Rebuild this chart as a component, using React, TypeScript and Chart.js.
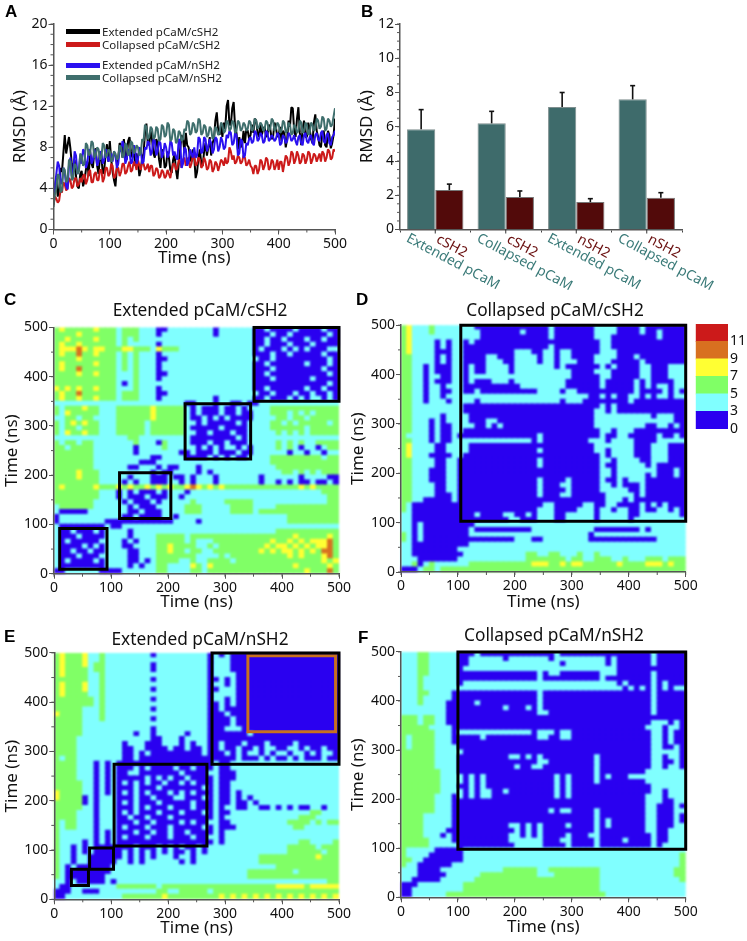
import React, { useEffect, useRef } from "react";
import { Chart, registerables } from "chart.js";
Chart.register(...registerables);

const FONT = '"Noto Sans", sans-serif';
const sampleStepNs = 2.5;
const extCSH2 = [2.6,4.2,5.0,3.2,3.8,6.0,5.6,7.4,9.2,7.4,8.2,9.0,7.9,6.4,5.6,6.8,5.2,4.2,4.0,5.4,5.7,4.2,4.7,5.8,6.6,5.2,7.6,6.4,6.0,7.6,7.9,6.2,5.4,7.0,7.2,5.4,5.8,7.2,8.3,6.6,8.6,6.8,5.6,4.8,4.2,6.0,7.0,8.4,8.2,7.0,8.8,7.2,6.8,8.6,9.0,7.6,7.0,8.2,6.2,7.4,6.6,5.2,5.8,7.0,7.4,9.4,10.3,8.4,8.2,9.6,8.8,7.4,7.0,8.8,8.4,6.8,6.0,7.8,7.4,6.0,6.2,7.6,7.0,5.8,5.5,6.8,7.4,5.8,4.9,6.4,7.8,9.2,8.8,7.6,9.4,8.2,8.0,7.0,6.6,7.8,7.0,5.0,5.6,7.0,7.8,6.4,6.2,7.6,8.4,7.2,8.0,9.0,7.2,8.4,8.8,10.6,11.4,9.6,9.2,10.2,9.0,10.4,9.8,12.0,12.6,10.2,10.2,11.8,12.4,10.0,9.4,7.8,9.0,8.0,8.2,9.6,8.4,9.8,9.6,8.8,9.2,10.2,9.4,10.8,10.6,9.4,9.0,10.2,9.2,9.8,10.0,9.0,9.2,10.2,9.8,8.8,9.0,10.4,10.0,9.0,9.2,10.0,8.6,9.6,9.4,8.0,8.8,10.6,10.0,11.9,11.8,9.6,9.0,10.8,11.9,9.4,8.2,9.8,10.6,9.0,9.0,10.4,9.8,8.8,8.4,10.4,11.2,9.6,9.0,8.2,8.0,9.4,9.6,8.2,8.0,9.6,9.2,7.9,8.4,9.2,10.8];
const colCSH2 = [2.4,3.2,3.0,2.6,2.8,3.8,3.6,4.6,4.4,3.8,4.0,5.0,4.8,4.0,4.2,5.0,5.0,4.2,4.4,5.0,4.6,5.2,5.4,4.4,4.8,5.6,5.8,4.6,4.6,5.4,5.6,4.8,4.8,5.8,5.8,4.6,5.0,6.0,6.0,5.2,5.4,6.4,6.2,5.0,5.2,6.0,6.0,5.2,5.6,6.4,6.4,5.4,5.6,6.2,6.6,5.6,5.8,6.6,6.4,5.8,6.8,6.2,5.8,6.6,6.4,5.8,6.0,6.4,5.6,6.2,6.2,5.2,5.4,6.0,5.8,5.0,5.2,5.8,5.6,5.0,5.2,5.8,5.4,5.0,5.8,6.4,6.4,5.8,6.0,6.8,6.6,6.0,6.8,7.0,6.2,6.8,7.0,6.0,6.4,7.2,7.2,6.2,6.4,7.0,6.8,6.0,6.2,7.0,6.6,5.8,6.0,6.8,6.6,5.6,5.9,6.6,6.4,5.7,6.2,6.8,6.6,6.2,7.0,6.4,6.6,8.0,7.6,6.8,7.2,6.4,6.6,7.2,7.0,6.4,6.6,7.2,7.0,6.2,6.4,6.8,6.2,6.0,5.4,6.2,6.2,5.4,5.8,6.8,6.6,5.8,6.2,7.0,6.8,5.8,6.0,6.8,6.6,5.8,6.2,6.8,5.8,6.6,6.6,5.6,6.4,7.2,7.0,6.2,6.6,7.6,7.4,6.4,6.8,7.6,7.2,6.4,6.6,7.4,7.2,6.4,6.8,7.6,7.4,6.4,6.8,7.4,7.2,6.6,7.0,7.4,6.6,7.6,7.4,6.6,7.0,7.8,7.6,6.8,7.0,7.8,7.6];
const extNSH2 = [2.8,4.2,5.4,6.6,6.2,4.4,4.6,6.0,5.6,4.2,3.9,6.2,7.0,5.2,5.6,7.6,7.2,5.4,5.8,7.2,6.4,7.8,7.6,6.0,6.4,7.8,7.6,6.4,6.8,7.8,7.4,6.2,6.6,7.6,7.4,6.4,6.8,7.8,7.6,6.6,7.0,7.4,6.6,7.6,7.2,6.0,6.4,7.8,7.6,8.6,8.2,6.4,6.8,7.8,7.6,6.4,6.6,8.2,7.8,6.4,6.8,8.0,7.8,6.4,6.6,8.0,7.8,8.6,8.4,7.2,7.6,8.8,8.6,7.2,7.6,8.6,8.4,7.0,7.4,8.4,8.0,7.0,7.4,8.6,8.4,7.2,7.6,7.0,6.8,8.8,8.6,6.0,6.4,8.0,7.8,6.2,6.6,7.8,7.4,7.0,8.0,7.0,7.2,9.0,8.8,7.4,7.6,9.0,8.8,7.6,8.0,8.8,8.4,7.4,7.8,9.0,8.8,7.6,8.0,9.0,8.6,7.8,8.0,9.2,8.9,9.6,9.4,8.2,8.4,9.4,9.2,7.2,7.4,8.8,8.6,7.0,7.2,8.4,8.2,8.8,9.0,8.4,8.6,9.6,9.4,8.6,8.8,9.4,9.2,8.4,8.6,9.6,9.4,8.6,8.8,9.2,9.0,8.6,8.8,9.4,9.2,8.2,8.4,9.2,9.0,8.4,8.6,9.4,9.2,8.6,8.8,9.2,8.6,8.2,9.0,9.2,8.4,8.2,9.2,9.4,8.6,8.4,9.0,9.2,8.4,8.2,9.2,9.4,8.8,8.6,9.4,9.6,8.6,8.4,9.2,9.4,8.4,8.2,9.0,9.2,9.6];
const colNSH2 = [2.2,3.4,4.0,5.4,5.2,3.6,3.8,6.0,5.8,4.6,4.8,6.8,6.6,4.8,5.0,6.4,6.2,5.4,5.6,7.4,7.2,6.2,6.4,8.4,8.2,7.2,7.4,8.6,8.4,7.0,7.2,8.0,7.8,6.8,7.0,8.4,8.2,7.0,7.2,7.8,7.6,6.6,6.8,7.6,7.4,6.8,7.0,8.2,8.0,7.0,7.2,8.4,8.2,7.2,7.4,8.6,8.4,7.4,7.6,8.2,8.0,7.2,7.4,8.8,8.6,10.2,10.0,8.8,9.0,10.0,9.8,8.8,9.0,10.0,9.8,8.6,8.8,10.2,10.0,9.0,9.2,10.4,10.2,8.6,8.8,9.8,9.6,8.4,8.6,9.6,9.4,8.6,8.8,9.8,9.6,10.6,10.4,9.2,9.4,10.4,10.2,9.4,9.6,10.8,10.6,9.2,9.4,10.2,10.0,9.0,9.2,10.0,9.8,8.8,9.0,10.0,9.8,9.2,9.4,10.4,10.2,9.4,9.6,10.6,10.4,9.6,9.8,10.6,10.4,9.4,9.6,10.6,10.4,9.6,9.8,10.4,10.2,9.6,9.8,10.6,10.4,9.6,9.8,10.8,10.6,9.8,10.0,10.4,10.2,9.6,9.8,10.6,10.4,9.6,9.8,10.8,10.6,9.6,9.8,10.4,10.2,9.4,9.6,10.6,10.4,9.4,9.6,10.4,10.2,9.2,9.4,10.2,10.0,9.4,9.6,10.6,10.4,9.4,9.6,10.4,10.2,9.2,9.4,10.4,10.2,9.6,9.8,10.8,10.6,9.8,10.0,11.0,10.8,9.6,9.8,10.8,10.6,10.0,10.2,11.0,11.8];

const barPcam = [5.85, 6.2, 7.15, 7.6];
const barPcamTop = [7.0, 6.9, 8.0, 8.4];
const barSh2 = [2.3, 1.9, 1.6, 1.85];
const barSh2Top = [2.65, 2.25, 1.8, 2.15];
const pcamLabels = ["Extended pCaM", "Collapsed pCaM", "Extended pCaM", "Collapsed pCaM"];
const sh2Labels = ["cSH2", "cSH2", "nSH2", "nSH2"];

const levelColors = ["#2a00f0", "#80ffff", "#80ff66", "#ffff33", "#d87020", "#cc1a1a"];
const colorbarLabels = ["0", "3", "5", "7", "9", "11", ""];
const timeStep = 10;

const matrixC = [
"2322222322 2122211100 1111111101 1111100100 0010000100",
"2222322222 2122211101 1111111101 1111100010 0100000010",
"2232222322 2121211111 1111111111 1111100100 1000100100",
"2322322222 2121111101 1111111111 1111100100 0100010000",
"2333432332 2233222132 2211111111 1111101000 1010100011",
"2322422322 2121211101 1111111111 1111100010 0100000100",
"2222322222 2121211100 1111111111 1111110010 0000000010",
"2322222322 2121211101 1111111111 1111100100 0000100010",
"2322422222 2121211101 1111111111 1111100010 0000000100",
"2222322322 2111211100 1111111111 1111100100 0000000010",
"2222222222 2111211101 1111111111 1111100010 0000010000",
"2222222222 2101211111 1111111111 1111100000 0000000010",
"3232322322 2111211101 1111111111 1111100100 0000100100",
"2322422222 2122211100 1111111111 1111110010 0010010010",
"2322322322 2122211101 1111111101 1111100100 0101011010",
"1111111111 1111111111 1110011101 1001001111 1111111111",
"2122232211 1222222322 2221010001 0010111122 2222222222",
"2132222211 1222222322 2221010001 0010011122 2121212222",
"1122122111 1222222322 2221001010 1000011112 2122122222",
"2123232211 1222221222 2221101000 0010111122 1212222212",
"2122122211 1222221222 2221000001 0000111122 2222122222",
"2132232211 1222221222 2221100100 0100111112 1212122222",
"1111111111 1112211111 1111000000 0010111111 1111111111",
"2122122111 1111211102 1111000100 1000111112 1212112222",
"2212222111 1111011112 1111101010 1101011112 1210110122",
"2222222111 1111011111 1100100010 0010011111 1011011011",
"2222222111 1111111001 1110000101 0100111122 2222222122",
"2222222111 1111100011 1111111111 1111111122 2222222222",
"2222222111 1110011101 0011101111 1111111112 2222222222",
"2222322211 1111111010 0111101011 1111111111 2212121222",
"2222322211 1110111000 1001011101 1111110111 1110111100",
"2222222211 1101011000 1101011101 1111110110 1010010010",
"2322222322 2323223232 3223432323 2222222222 2223232222",
"2222222211 1010100010 1110111111 1111111111 1111111222",
"2222222211 1010001000 1101111111 1111111111 1111111122",
"2222222111 1101000101 1111211111 2222211111 1111111122",
"1222222111 1110100011 1112221111 1222211112 2222222222",
"1000001111 1110010001 1112221111 1222212222 2222222222",
"0111111111 1100100001 1011111111 1111111111 1222222222",
"0111111110 0000000000 0111101111 1111111111 1222222222",
"1000000001 0011111111 1111111111 1111111111 1111111111",
"1001000101 1110111111 1111111111 1111111112 2222222222",
"1000100001 1110111122 2221222222 2222222222 2232222232",
"1010000011 1101011122 2221211122 2222222232 2323233342",
"1000010101 1100111122 3222211212 2222222323 3232323342",
"1001001001 1110011122 3221221122 2222223232 3323232442",
"1000100011 1110011122 2222211112 1222222222 2323222342",
"1010000101 1110010122 2211211222 2122222222 2222222323",
"1000000001 1110101122 1111321322 2222222222 2232222232",
"0011111100 0011111122 1111221222 2222222222 2222322242",
];

const matrixD = [
"2311121111 1110000000 0000001000 0000111100 0010000000",
"2311121111 1111000000 0100001000 0000111100 0010010000",
"2311111111 1111000000 0000001000 0000111000 0000010000",
"2311110101 1010000000 0000000000 0000011000 0000000000",
"2311110101 1000000000 0000001000 0000011000 0000000000",
"2311110001 1000000000 1110011011 0000011100 0000000000",
"2211110101 1000011000 1111011011 0000111100 0100000000",
"2211110101 1000011100 1111011011 1000111000 0010000000",
"2211010001 1010011110 1111111010 0000010100 0011000111",
"2211010001 1010011110 1111111111 0000111000 0011000111",
"2211011001 1011111111 1111111111 0000011000 0011000111",
"2211010001 1010001110 1111111110 0000010000 0101000011",
"2211011011 1000000000 0111111110 0000010000 0101011011",
"2211011001 1001000000 0000111101 1000000000 0100001010",
"2211011011 1111111111 1111111111 1110010100 1101011011",
"2211011101 1110111111 1111111101 1100000000 1000000000",
"2211111111 1000000000 0000000000 0000010100 0000000000",
"2211111111 1000000000 0000000000 0000110100 0000000000",
"2211111011 1100000000 0000000000 0000111111 1111011100",
"2211101011 1100011000 0000000000 0000111111 1111111100",
"2211101001 1110010100 0000000000 0000111111 1110011010",
"2211101001 1000000000 0000000000 0000011011 1000000000",
"2111101001 0000000000 0000100000 0000010011 0000010010",
"2211101001 1111111111 1110100000 0001110111 1000011111",
"2311110011 1100000000 0000000000 0000111111 1000111000",
"2311110011 1100000000 0000100000 0000110111 1000111000",
"2311100001 1000000000 0000000000 0000010111 1000111000",
"2211110011 0000000000 0000100000 0000011011 1100111000",
"2211110011 0000000000 0000100000 0000010011 1110100000",
"2211100011 0000000000 0000000000 0000011011 1111100010",
"2211100011 0000000000 0000000000 0000011011 1110100010",
"2211100011 0000000000 0000100001 0000010010 1110000000",
"2211110011 0000000000 0000100011 0000011010 0010000000",
"2211110011 0000000000 0000100001 0000011111 0010000000",
"2211110001 0000000000 0000100011 0000001111 1010000000",
"2211000001 0000000000 0000000000 0000001110 1000000000",
"2100000000 0000000000 0000011000 0011001100 0010101000",
"2100000000 0000000000 0000111000 0111011011 0010011010",
"1100000000 0001000011 0010111001 1111011111 0011111110",
"1100000000 0000000001 1000111001 1111011111 0111111111",
"1101000000 0001111111 1111111111 1111111111 1111111111",
"1101000000 0010000000 0001111111 1111000000 0010111111",
"2101000000 0011111111 1111111111 1110111111 1111111111",
"2101000000 0000000000 1110011111 1110000000 0000011111",
"1100000000 0011111111 1111111111 1111111111 1111111111",
"1100000000 1111111111 1111111111 1111111111 1111111111",
"1100000000 0111111111 1122112211 1211211111 1111111111",
"1110000000 1111111111 1122222221 2211222112 1112221222",
"1120121111 1122222222 2223332232 3322222232 2223332322",
"0001221222 2222222222 2222222222 2222222222 2222222222",
];

const matrixE = [
"2322231121 1111111011 1111111010 1000000000 0000000000",
"2322231121 1111111111 1111111011 1000000000 0000000000",
"2322231221 1111111011 1111111011 1000000000 0000000000",
"2322221221 1111111011 1111111011 1000000000 0000000000",
"2322221121 1111111111 1111111011 1100000000 0000000000",
"2222221121 1111111011 1111111001 0100000000 0000000000",
"2322231121 1111111111 1111111011 0100000000 0000000000",
"2322231121 1111111011 1111111001 1100000000 0000000000",
"2322221121 1111111111 1111111011 1100000000 0000000000",
"2222222121 1111111011 1111111011 0100000000 0000000000",
"2222222121 1111111111 1111111001 0100000000 0000000000",
"2222211121 1111111011 1111111001 0000000000 0000000000",
"3222211121 1111111111 1111111000 1000000000 0000000000",
"2222211121 1111111011 1111111000 0100000000 0000000000",
"2222211111 1111111111 1111111000 0100000000 0000000000",
"2222211111 1111111011 1111111000 1110000000 0000000000",
"2222211111 1111011011 1110111000 0000100000 0000000000",
"2222111111 1111111001 1101111000 0000000000 0000000000",
"2222111111 1101110001 1101011001 0001000100 0010000000",
"2222111111 1100110000 1001001001 0010010110 0110100100",
"2222111111 1100101000 0000001000 1010110101 1011010110",
"2122111111 1100100000 0000000000 0010001010 0101000100",
"2222111010 1000000000 0000000010 0111111111 1111111111",
"2222111010 1000101000 0100100010 0111111111 1111111111",
"2222111010 1001100000 0010000110 0011111111 1111111111",
"2222111010 1000001010 1001000010 0011111111 1111111111",
"2222211010 1010101001 0010100010 0111111111 1111111111",
"2222211010 1000100010 0000001010 0111111111 1111111111",
"3222211010 1010101000 1010100010 0101111111 1111111111",
"3222201011 1000100100 0110001010 0101011111 1111111111",
"2222201011 1010100010 0000100010 0100101111 1111111111",
"2222211011 1000101000 1000100010 1100110010 1010011011",
"2222111011 1010100010 0010001010 0111111111 1111122111",
"2222111011 1001001000 1000000010 1111111111 1112221111",
"2122111011 1000100100 0010100110 0111111111 1222212122",
"2122111011 1010001000 1000001010 0011111111 1122111111",
"2111111010 1000100100 1001000010 1111111111 1111111111",
"2111111010 1010001000 1000100110 1111111111 1111111111",
"2111101010 1000000000 0000000010 1111111111 1112211112",
"2110101000 0000100010 1010010111 1111111111 1222221222",
"2110101000 0010101010 1001010111 1111111111 1222222122",
"2110110000 0010101011 1011011111 1111112222 2222223222",
"2110110000 0110101111 1101011111 1111112222 2222222222",
"2101000000 1111111111 1111111111 1111111112 2222222222",
"2100000000 1111111111 1111111111 1111222222 2212222222",
"2100000001 1111111111 1111111111 1111222222 2222222222",
"1101000001 0111111111 1111111111 1111111111 1111111122",
"1001111111 1222222212 2222222222 2222222223 3333233333",
"0001100011 1111111122 1122222122 2222222222 2222222222",
"0011111111 1122222223 2222222223 2323232323 2323232323",
];

const matrixF = [
"1112211111 0001000000 0000000100 0000000000 0000100000",
"1112211111 0011111101 1111110111 1111110100 0000100000",
"1112211111 0011111111 1111111101 1111110100 0000100000",
"1112211111 0111111111 1111111111 1111111100 0000000000",
"1112211111 0000000000 0000101100 0000011100 0000100000",
"1112111111 0000000000 0000100000 0000010000 0000100000",
"1112111111 0111111111 1111111111 1111111101 0000101000",
"1112111111 1111111111 1111111111 1111111110 1010101011",
"1112211110 0000000000 0000100000 0000000000 0000100000",
"1112111110 0000000000 0000100000 0000000000 0000100000",
"1112111100 0001000000 0000100000 0000000000 0000100000",
"1111111100 0000000010 0010100000 0000000000 0000100000",
"1111111100 0000000000 0000110000 0000000000 0000100000",
"2221221100 0000000000 0000000000 0000000000 0000000000",
"2221221100 0000000000 0000000000 0000000000 0000111010",
"2222211110 0000000000 0000000000 0000000000 0001110110",
"2222221110 1111111111 1110111011 0000000000 0000110100",
"2122221110 0000100000 0000110011 0000000000 0000110100",
"2122221110 0000000000 0000000000 0000000000 0000110100",
"2122221111 0000000000 0000000000 0000000000 0000110010",
"2222221111 1000000000 0000000000 0000000000 0000111110",
"2222221111 0000000001 1010100000 0000100000 0000110110",
"2222221111 0000000000 0000110000 0000100000 0000110010",
"2222221111 0000000000 1001100000 0000100000 0000110110",
"2222222111 0000000000 0000000000 0000100000 0001111111",
"2222222111 1010100000 0000000101 0000101000 1111111111",
"2222222111 1010100000 0000000101 0000100000 0001111111",
"2222222111 0010100000 0000000101 0000000000 0000111111",
"2222222111 1010110010 0000000101 0000000000 0000110111",
"2222221110 1010110000 0000000101 0000000000 0001110111",
"2222221110 0000000000 0000000000 0000000000 0001110011",
"2222221110 0000000000 0000000000 0000000000 0001100010",
"2222221110 0000000000 0000001011 0000100000 0001100011",
"2222111110 0000000000 0000000000 0000100000 0001100010",
"2222111110 0000000000 0000000000 0000101000 0001100010",
"2222111110 0000000001 1010100001 0000101000 0001100011",
"2222111100 0000000000 1010100000 0000100000 0001100111",
"2222111010 0000000001 1010100001 0001100000 0000100111",
"2222211110 0000000001 1111100011 0000100001 0000100111",
"2222211111 0000000000 1111100001 0000100000 0000101111",
"2111110000 0111111111 1111111111 1111111111 1111111111",
"2111100000 0111111111 1111111111 1111111111 1111111112",
"2211000000 0111111111 1111111111 1111111111 1111111112",
"2110000001 1111111111 1111111111 1111111111 1111111112",
"1110000111 1111111122 2222112222 2222211111 1111111122",
"1110000011 1111222222 2222111222 2222211111 1111111122",
"1100000111 1112222222 2222222222 2222211111 1111111112",
"0001111111 1222222222 2222222222 2222211111 1111111111",
"0011111111 1222222222 2222222222 2222211111 1111111111",
"0011111122 2222222222 2222222222 2222221111 1111111111",
];

const boxesC = [[10, 9, 93, 92], [115, 112, 205, 205], [230, 233, 345, 345], [351, 350, 500, 500]];
const boxesD = [[105, 103, 500, 500]];
const boxesE = [[30, 28, 60, 61], [62, 61, 104, 104], [105, 108, 268, 274], [277, 274, 500, 500]];
const orangeE = [[340, 340, 494, 494]];
const boxesF = [[100, 98, 500, 500]];

const legendRows = [
  { name: "Extended pCaM/cSH2", color: "#000000", y: 31.5 },
  { name: "Collapsed pCaM/cSH2", color: "#cc1a1a", y: 44.5 },
  { name: "Extended pCaM/nSH2", color: "#2a10f0", y: 65 },
  { name: "Collapsed pCaM/nSH2", color: "#3f6f6d", y: 77.5 },
];
const panelLetters = [
  { t: "A", x: 5, y: 3 }, { t: "B", x: 361, y: 3 }, { t: "C", x: 4, y: 291 },
  { t: "D", x: 356, y: 291 }, { t: "E", x: 4, y: 628 }, { t: "F", x: 358, y: 629 },
];

const AXIS = "#555";
const CLEAR = "rgba(0,0,0,0)";

const minorTicks = {
  id: "minorTicks",
  afterDatasetsDraw(chart: any, _a: any, o: any) {
    const { ctx, scales } = chart;
    ctx.save();
    ctx.strokeStyle = AXIS;
    ctx.lineWidth = 1;
    if (o.x) {
      for (let v = scales.x.min; v <= scales.x.max; v += o.x) {
        const p = scales.x.getPixelForValue(v);
        ctx.beginPath(); ctx.moveTo(p, scales.x.top); ctx.lineTo(p, scales.x.top + 3); ctx.stroke();
      }
    }
    if (o.y) {
      for (let v = scales.y.min; v <= scales.y.max + 1e-6; v += o.y) {
        const p = scales.y.getPixelForValue(v);
        ctx.beginPath(); ctx.moveTo(scales.y.right, p); ctx.lineTo(scales.y.right - 3, p); ctx.stroke();
      }
    }
    ctx.restore();
  },
};

const titleCentre = {
  id: "titleCentre",
  afterLayout(chart: any, _a: any, o: any) {
    if (chart.titleBlock && o.x !== undefined) {
      chart.titleBlock.left = o.x - 120;
      chart.titleBlock.right = o.x + 120;
    }
  },
};

const barExtras = {
  id: "barExtras",
  afterDatasetsDraw(chart: any) {
    const { ctx, scales } = chart;
    ctx.save();
    ctx.strokeStyle = "#111";
    [barPcamTop, barSh2Top].forEach((tops, d) => {
      const meta = chart.getDatasetMeta(d);
      tops.forEach((t, i) => {
        const el = meta.data[i];
        const x = el.x;
        const yT = scales.y.getPixelForValue(t);
        ctx.lineWidth = 1.6;
        ctx.beginPath(); ctx.moveTo(x, el.y); ctx.lineTo(x, yT); ctx.stroke();
        ctx.beginPath(); ctx.moveTo(x - 2.5, yT); ctx.lineTo(x + 2.5, yT); ctx.stroke();
      });
    });
    ctx.restore();
  },
  afterDraw(chart: any) {
    const { ctx, scales } = chart;
    ctx.save();
    ctx.font = `14px ${FONT}`;
    ctx.textBaseline = "middle";
    ctx.textAlign = "left";
    const ang = (28 * Math.PI) / 180;
    pcamLabels.forEach((label, i) => {
      const c = scales.x.getPixelForTick(i);
      ctx.save();
      ctx.translate(c - 28, scales.y.bottom + 8);
      ctx.rotate(ang);
      ctx.fillStyle = "#3a7a78";
      ctx.fillText(label, 0, 0);
      ctx.restore();
      ctx.save();
      ctx.translate(c + 2, scales.y.bottom + 9);
      ctx.rotate(ang);
      ctx.fillStyle = "#6a1010";
      ctx.fillText(sh2Labels[i], 0, 0);
      ctx.restore();
      ctx.strokeStyle = "#333";
      ctx.lineWidth = 1;
      ctx.beginPath(); ctx.moveTo(c, scales.y.bottom); ctx.lineTo(c, scales.y.bottom + 4); ctx.stroke();
    });
    ctx.restore();
  },
};

type Frame = { left: number; top: number; right: number; bottom: number; pl: number; pt: number; pr: number; pb: number };

function axisX(f: Frame, titleCenterY: number, hidden = false) {
  const lh = 17 * 1.2;
  const p = f.bottom - titleCenterY - lh / 2;
  return {
    type: "linear", min: 0, max: 500, offset: false,
    afterFit: (s: any) => { s.height = f.bottom - f.pb; },
    border: { color: hidden ? CLEAR : AXIS, width: 1.5, z: 2 },
    grid: { drawOnChartArea: false, tickLength: 5, tickColor: hidden ? CLEAR : AXIS, tickWidth: 1 },
    ticks: { stepSize: 100, maxRotation: 0, autoSkip: false, padding: 1, color: hidden ? CLEAR : "#111", font: { size: 14, family: FONT } },
    title: { display: true, text: "Time (ns)", color: hidden ? CLEAR : "#111", font: { size: 17, family: FONT }, padding: { top: p, bottom: p } },
  };
}
function axisY(f: Frame, titleText: string, titleCenterX: number, step: number, min: number, max: number, hidden = false) {
  const lh = 17 * 1.2;
  const p = titleCenterX - f.left - lh / 2;
  return {
    min, max,
    afterFit: (s: any) => { s.width = f.pl - f.left; },
    border: { color: hidden ? CLEAR : AXIS, width: 1.5, z: 2 },
    grid: { drawOnChartArea: false, tickLength: 5, tickColor: hidden ? CLEAR : AXIS, tickWidth: 1 },
    ticks: { stepSize: step, autoSkip: false, padding: 1, color: hidden ? CLEAR : "#111", font: { size: 14, family: FONT } },
    title: { display: true, text: titleText, color: hidden ? CLEAR : "#111", font: { size: 17, family: FONT }, padding: { top: p, bottom: p } },
  };
}
function padOf(f: Frame, hasTitle: boolean) {
  return { left: 0, bottom: 0, right: f.right - f.pr, top: hasTitle ? 0 : f.pt - f.top };
}

function boxDataset(b: number[], color: string, width: number) {
  const [x0, y0, x1, y1] = b;
  return {
    data: [{ x: x0, y: y0 }, { x: x1, y: y0 }, { x: x1, y: y1 }, { x: x0, y: y1 }, { x: x0, y: y0 }, { x: x1, y: y0 }],
    borderColor: color, borderWidth: width, pointRadius: 0, tension: 0, fill: false,
    borderJoinStyle: "miter", clip: false,
  };
}

function heatOptions(f: Frame, title: string, titleCX: number, xTitleY: number, yTitleX: number, hidden: boolean) {
  const lh = 17 * 1.2;
  const q = f.pt - f.top - lh;
  return {
    responsive: false, animation: false, events: [],
    layout: { padding: padOf(f, true) },
    plugins: {
      legend: { display: false }, tooltip: { enabled: false },
      title: { display: true, text: title, color: hidden ? CLEAR : "#111", font: { size: 17.3, family: FONT, weight: "normal", lineHeight: lh / 17.3 }, padding: { top: 0, bottom: q } },
      minorTicks: hidden ? {} : { x: 50, y: 50 },
      titleCentre: { x: titleCX - f.left },
    },
    scales: { x: axisX(f, xTitleY, hidden), y: axisY(f, "Time (ns)", yTitleX, 100, 0, 500, hidden) },
  };
}

function heatCells(matrix: string[], f: Frame, title: string, cx: number, xTitleY: number, yTitleX: number) {
  const rows = matrix.map((r) => r.replace(/ /g, ""));
  const datasets: any[] = [];
  for (let r = rows.length - 1; r >= 0; r--) {
    const row = rows[r];
    const pts: any[] = [];
    const cols: string[] = [];
    for (let c = 0; c < row.length; c++) {
      pts.push({ x: c * timeStep + timeStep / 2, y: timeStep });
      cols.push(levelColors[Number(row[c])]);
    }
    datasets.push({ data: pts, backgroundColor: cols, borderWidth: 0, stack: "m", barPercentage: 1, categoryPercentage: 1, inflateAmount: 0.6 });
  }
  return { type: "bar", data: { datasets }, options: heatOptions(f, title, cx, xTitleY, yTitleX, true) };
}
function heatFrame(boxes: number[][], extra: number[][], f: Frame, title: string, cx: number, xTitleY: number, yTitleX: number) {
  const datasets = [
    ...boxes.map((b) => boxDataset(b, "#000", 3)),
    ...extra.map((b) => boxDataset(b, "#c8701e", 3)),
  ];
  return { type: "line", data: { datasets }, plugins: [minorTicks, titleCentre], options: heatOptions(f, title, cx, xTitleY, yTitleX, false) };
}

const fA: Frame = { left: 0, top: 0, right: 352, bottom: 285, pl: 53.5, pt: 24, pr: 335, pb: 229.5 };
const fB: Frame = { left: 350, top: 0, right: 747, bottom: 300, pl: 400, pt: 24, pr: 682, pb: 229.5 };
const fC: Frame = { left: 0, top: 300.8, right: 356, bottom: 625, pl: 54, pt: 327.3, pr: 339, pb: 573.7 };
const fD: Frame = { left: 345, top: 300.8, right: 703, bottom: 625, pl: 401, pt: 325, pr: 685.7, pb: 572 };
const fE: Frame = { left: 0, top: 629.8, right: 356, bottom: 941, pl: 54.3, pt: 652.7, pr: 339, pb: 899.3 };
const fF: Frame = { left: 345, top: 625.8, right: 703, bottom: 941, pl: 401, pt: 651.7, pr: 685.7, pb: 897.3 };
const fBar: Frame = { left: 680, top: 312, right: 747, bottom: 440, pl: 695.7, pt: 324, pr: 728, pb: 429 };

const lineConfig = {
  type: "line",
  data: {
    datasets: [
      { label: legendRows[0].name, values: extCSH2, color: legendRows[0].color, order: 4 },
      { label: legendRows[1].name, values: colCSH2, color: legendRows[1].color, order: 3 },
      { label: legendRows[2].name, values: extNSH2, color: legendRows[2].color, order: 2 },
      { label: legendRows[3].name, values: colNSH2, color: legendRows[3].color, order: 1 },
    ].map((s) => ({
      label: s.label,
      data: s.values.map((v, i) => ({ x: i * sampleStepNs, y: v })),
      borderColor: s.color, borderWidth: 2, pointRadius: 0, tension: 0, order: s.order, borderJoinStyle: "bevel",
    })),
  },
  plugins: [minorTicks],
  options: {
    responsive: false, animation: false, events: [],
    layout: { padding: padOf(fA, false) },
    plugins: { legend: { display: false }, tooltip: { enabled: false }, minorTicks: { x: 50, y: 1 } },
    scales: { x: axisX(fA, 258), y: axisY(fA, "RMSD (Å)", 20, 4, 0, 20) },
  },
};

const barConfig = {
  type: "bar",
  data: {
    labels: pcamLabels.map((l, i) => `${l} ${sh2Labels[i]}`),
    datasets: [
      { label: "pCaM", data: barPcam, backgroundColor: "#3e6b6b", borderColor: "#7f8f8f", borderWidth: 1, categoryPercentage: 0.8, barPercentage: 1 },
      { label: "SH2", data: barSh2, backgroundColor: "#520a0a", borderColor: "#777", borderWidth: 1, categoryPercentage: 0.8, barPercentage: 1 },
    ],
  },
  plugins: [minorTicks, barExtras],
  options: {
    responsive: false, animation: false, events: [],
    layout: { padding: padOf(fB, false) },
    plugins: { legend: { display: false }, tooltip: { enabled: false }, minorTicks: { y: 0.5 } },
    scales: {
      x: {
        afterFit: (s: any) => { s.height = fB.bottom - fB.pb; },
        border: { color: AXIS, width: 1.5 },
        grid: { drawOnChartArea: false, offset: true, tickLength: 3, tickColor: "#444" },
        ticks: { display: false },
      },
      y: axisY(fB, "RMSD (Å)", 367, 2, 0, 12),
    },
  },
};

const colorbarConfig = {
  type: "bar",
  data: {
    labels: ["RMSD"],
    datasets: levelColors.map((c, i) => ({ label: colorbarLabels[i], data: [1], backgroundColor: c, borderWidth: 0, stack: "c", barPercentage: 1, categoryPercentage: 1, inflateAmount: 0.4 })),
  },
  options: {
    responsive: false, animation: false, events: [],
    layout: { padding: { left: fBar.pl - fBar.left, right: 0, top: fBar.pt - fBar.top, bottom: fBar.bottom - fBar.pb } },
    plugins: { legend: { display: false }, tooltip: { enabled: false } },
    scales: {
      x: { display: false },
      y: {
        position: "right", min: 0, max: 6, stacked: true,
        afterFit: (s: any) => { s.width = fBar.right - fBar.pr; },
        border: { display: false },
        grid: { display: false, drawTicks: false },
        ticks: { stepSize: 1, autoSkip: false, padding: 2, color: "#111", font: { size: 14, family: FONT }, callback: (v: any) => colorbarLabels[v] },
      },
    },
  },
};

function Panel({ frame, config, blur = 0.35 }: { frame: Frame; config: any; blur?: number }) {
  const ref = useRef<HTMLCanvasElement>(null);
  useEffect(() => {
    const chart = new Chart(ref.current as any, config);
    return () => chart.destroy();
  }, []);
  const w = Math.round(frame.right - frame.left);
  const h = Math.round(frame.bottom - frame.top);
  return (
    <canvas
      ref={ref}
      width={w}
      height={h}
      style={{ position: "absolute", left: frame.left, top: frame.top, width: w, height: h, filter: `blur(${blur}px)` }}
    />
  );
}

const heatPanels = [
  { key: "C", m: matrixC, boxes: boxesC, extra: [], f: fC, title: "Extended pCaM/cSH2", cx: 200, xy: 602, yx: 12 },
  { key: "D", m: matrixD, boxes: boxesD, extra: [], f: fD, title: "Collapsed pCaM/cSH2", cx: 555, xy: 602, yx: 358 },
  { key: "E", m: matrixE, boxes: boxesE, extra: orangeE, f: fE, title: "Extended pCaM/nSH2", cx: 200, xy: 928, yx: 12 },
  { key: "F", m: matrixF, boxes: boxesF, extra: [], f: fF, title: "Collapsed pCaM/nSH2", cx: 554, xy: 927, yx: 358 },
];

export default function App() {
  return (
    <div style={{ position: "absolute", left: 0, top: 0, width: 747, height: 941, overflow: "hidden", background: "#fff" }}>
      <Panel frame={fA} config={lineConfig} />
      <Panel frame={fB} config={barConfig} />
      {heatPanels.map((p) => (
        <React.Fragment key={p.key}>
          <Panel frame={p.f} config={heatCells(p.m, p.f, p.title, p.cx, p.xy, p.yx)} blur={1.1} />
          <Panel frame={p.f} config={heatFrame(p.boxes, p.extra, p.f, p.title, p.cx, p.xy, p.yx)} />
        </React.Fragment>
      ))}
      <Panel frame={fBar} config={colorbarConfig} />
      {legendRows.map((r) => (
        <React.Fragment key={r.name}>
          <div style={{ position: "absolute", left: 65.5, top: r.y - 2.5, width: 34, height: 5, background: r.color }} />
          <div style={{ position: "absolute", left: 102, top: r.y - 8, height: 16, lineHeight: "16px", fontFamily: FONT, fontSize: 11.5, color: "#222", whiteSpace: "nowrap" }}>{r.name}</div>
        </React.Fragment>
      ))}
      {panelLetters.map((l) => (
        <div key={l.t} style={{ position: "absolute", left: l.x, top: l.y, lineHeight: "18px", fontFamily: '"Liberation Sans", sans-serif', fontWeight: 700, fontSize: 17, color: "#000" }}>{l.t}</div>
      ))}
    </div>
  );
}
